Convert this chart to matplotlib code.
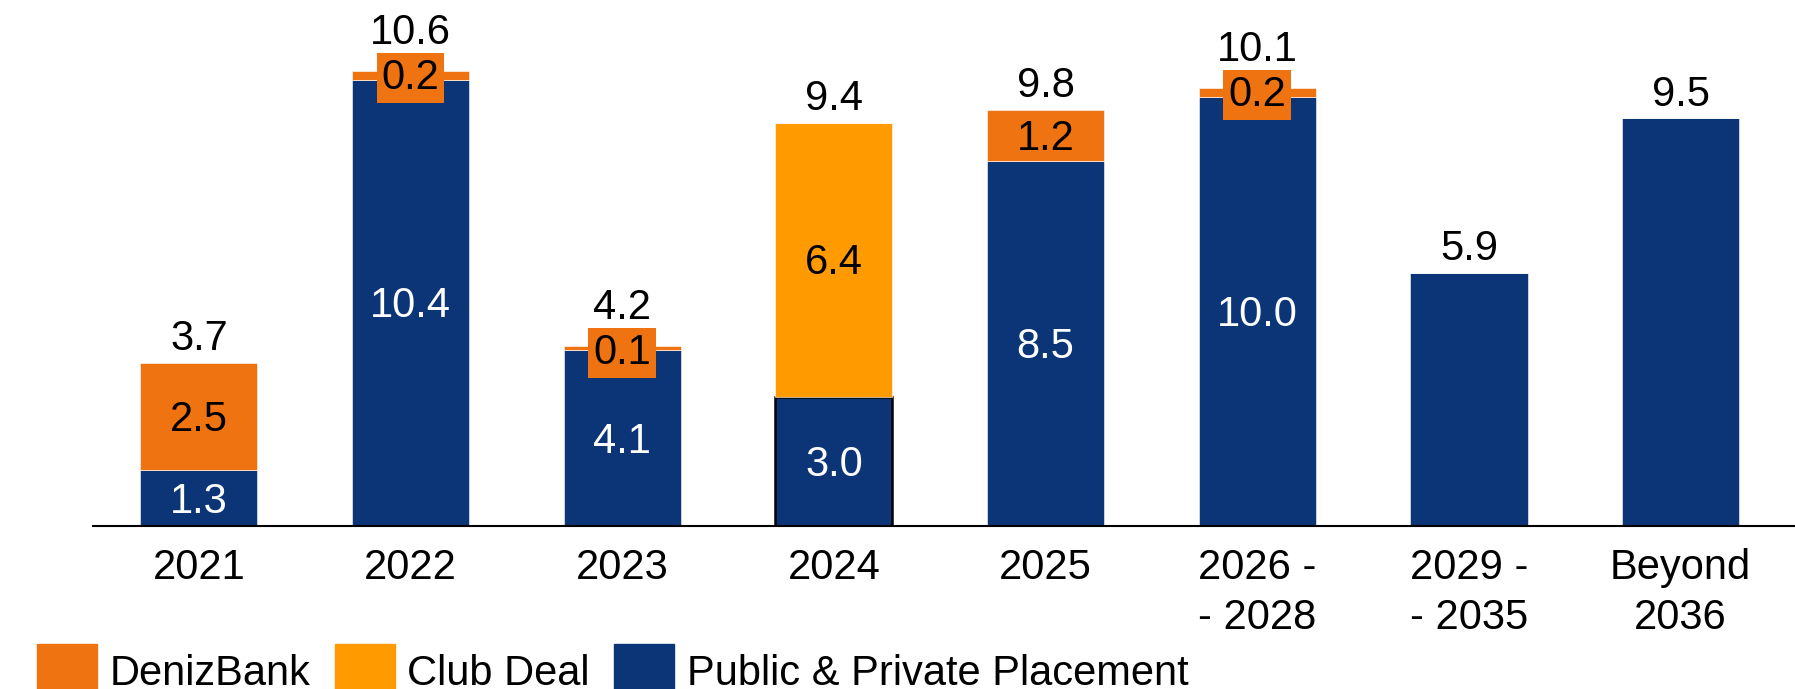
import numpy as np
import matplotlib.pyplot as plt
from matplotlib.patches import Rectangle

plt.rcParams['font.family'] = ['Liberation Sans', 'DejaVu Sans']

categories = ['2021', '2022', '2023', '2024', '2025', '2026 -\n- 2028', '2029 -\n- 2035', 'Beyond\n2036']
public = [1.3, 10.4, 4.1, 3.0, 8.5, 10.0, 5.9, 9.5]
club = [0, 0, 0, 6.4, 0, 0, 0, 0]
deniz = [2.5, 0.2, 0.1, 0, 1.2, 0.2, 0, 0]
totals = [3.7, 10.6, 4.2, 9.4, 9.8, 10.1, 5.9, 9.5]

BLUE = '#0B3577'
CLUB = '#FF9A00'
DENIZ = '#EF7311'
FS = 30

fig = plt.figure(figsize=(17.95, 6.89), dpi=100)
ax = fig.add_axes([93 / 1795, 163 / 689, 1 - 93 / 1795, 1 - 163 / 689])

x = np.arange(len(categories))
w = 0.553
pub = np.array(public)
clb = np.array(club)
dnz = np.array(deniz)

edges = ['black' if c > 0 else 'white' for c in clb]
lws = [1.8 if c > 0 else 0.4 for c in clb]
ax.bar(x, pub, w, color=BLUE, edgecolor=edges, linewidth=lws, zorder=2)
ax.bar(x, clb, w, bottom=pub, color=CLUB, edgecolor='white', linewidth=0.4, zorder=2)
ax.bar(x, dnz, w, bottom=pub + clb, color=DENIZ, edgecolor='white', linewidth=0.4, zorder=2)

for i in range(len(x)):
    segs = [(pub[i], 0, 'white'), (clb[i], pub[i], 'black'), (dnz[i], pub[i] + clb[i], 'black')]
    nseg = sum(1 for v, _, _ in segs if v > 0)
    small = False
    if nseg > 1:
        for v, b, col in segs:
            if v <= 0:
                continue
            if v >= 0.5:
                ax.annotate(f'{v:.1f}', (x[i], b + v / 2), xytext=(0, -2.5),
                            textcoords='offset points', ha='center', va='center',
                            color=col, fontsize=FS, zorder=3)
            else:
                small = True
                ax.annotate(f'{v:.1f}', (x[i], b + v), xytext=(0, -5),
                            textcoords='offset points', ha='center', va='center',
                            color=col, fontsize=FS, zorder=3,
                            bbox=dict(boxstyle='square,pad=0.12', fc=DENIZ, ec='none'))
    top = pub[i] + clb[i] + dnz[i]
    off = 19.5 if small else 9
    ax.annotate(f'{totals[i]:.1f}', (x[i], top), xytext=(0, off), textcoords='offset points',
                ha='center', va='baseline', fontsize=FS, color='black', zorder=3)

ax.set_xlim(-0.5, 7.54)
ax.set_ylim(0, 526 / 42.9)
ax.set_xticks(x)
ax.set_xticklabels(categories, fontsize=FS, linespacing=1.33)
ax.tick_params(axis='x', length=0, pad=16)
ax.set_yticks([])
for s in ['top', 'right', 'left']:
    ax.spines[s].set_visible(False)
ax.spines['bottom'].set_linewidth(1.5)
ax.spines['bottom'].set_zorder(4)

# legend
legend_items = [('DenizBank', DENIZ, 37, 110), ('Club Deal', CLUB, 335, 407),
                ('Public & Private Placement', BLUE, 614, 687)]
for name, col, px, tx in legend_items:
    fig.patches.append(Rectangle((px / 1795, 0), 60 / 1795, 45 / 689,
                                 transform=fig.transFigure, color=col))
    fig.text(tx / 1795, 4 / 689, name, fontsize=FS, va='baseline', ha='left')

fig.savefig('out.png', dpi=100)
